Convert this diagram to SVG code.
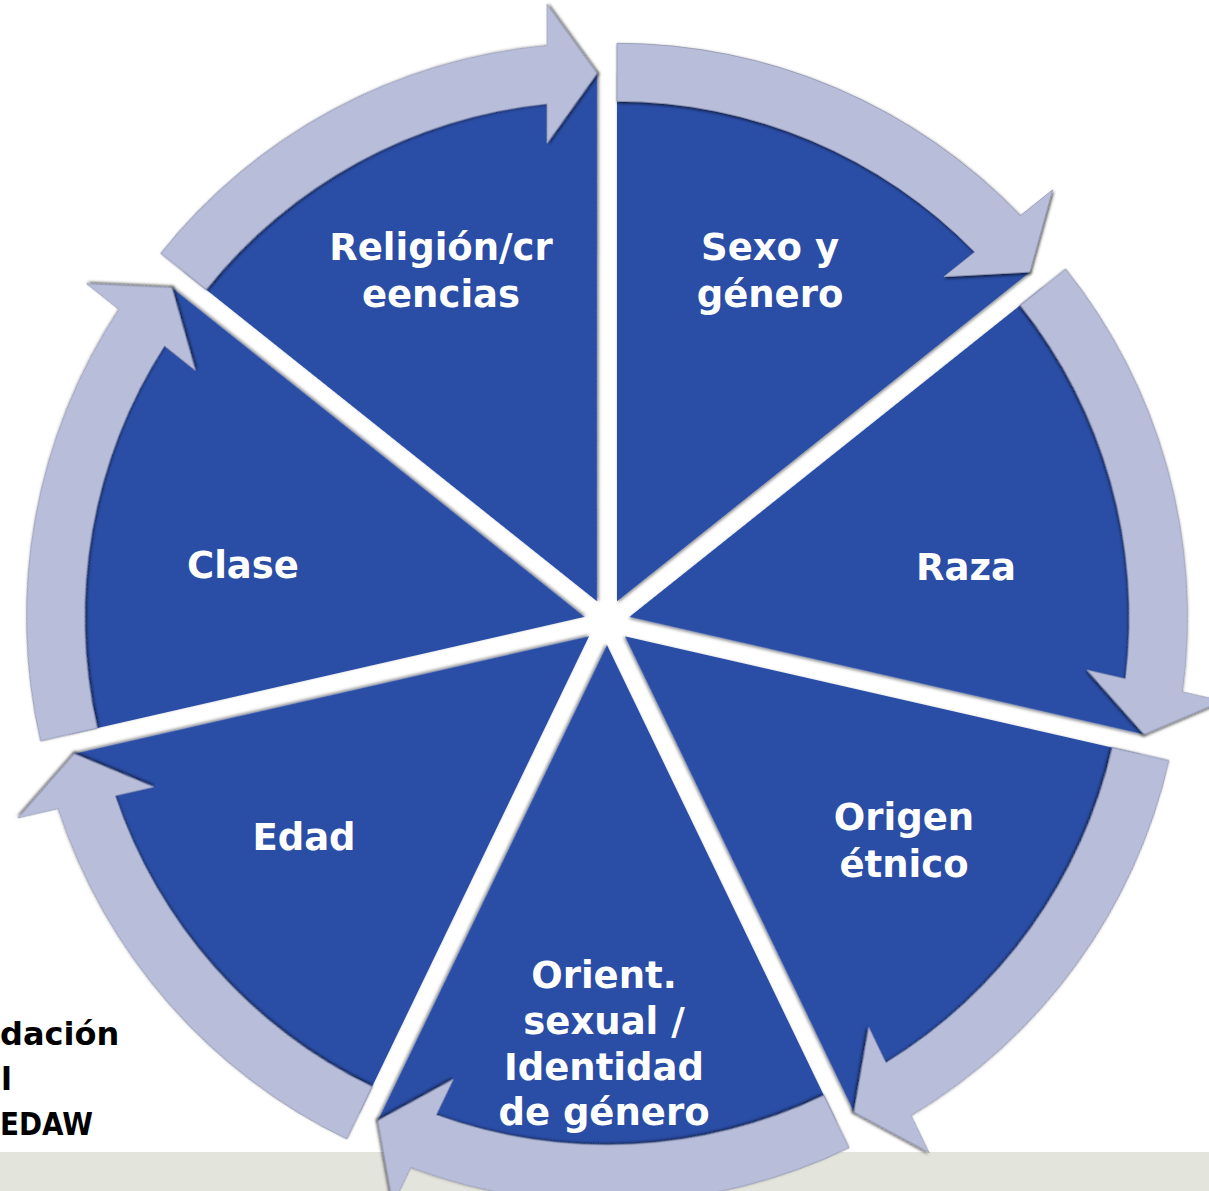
<svg xmlns="http://www.w3.org/2000/svg" xmlns:xlink="http://www.w3.org/1999/xlink" width="1209" height="1191" viewBox="0 0 1209 1191">
  <style>
    .sector { fill: #2C4DA6; filter: url(#secShadow); }
    .arrow { fill: #B8BDDA; stroke: #9095b0; stroke-width: 0.8; filter: url(#arrShadow); }
    .lbl { font-family: "DejaVu Sans", "Liberation Sans", sans-serif; font-weight: bold; font-size: 37px; fill: #ffffff; text-anchor: middle; }
    .side { font-family: "DejaVu Sans", "Liberation Sans", sans-serif; font-weight: bold; font-size: 32px; fill: #000000; }
  </style>
  <defs>
    <filter id="secShadow" x="-5%" y="-5%" width="110%" height="110%">
      <feDropShadow dx="1" dy="1.5" stdDeviation="1.5" flood-color="#000" flood-opacity="0.45"/>
    </filter>
    <filter id="arrShadow" x="-10%" y="-10%" width="120%" height="120%">
      <feDropShadow dx="1" dy="1.5" stdDeviation="1.6" flood-color="#000" flood-opacity="0.7"/>
    </filter>
    <path id="sec" d="M0,0 L0,-529 A529,529 0 0 1 413.59,-329.83 Z"/>
    <path id="arr" d="M0,-558 A558,558 0 0 1 403.34,-385.60 L435.58,-411.31 L412.81,-329.20 L326.91,-324.65 L357.78,-349.27 A500,500 0 0 0 0,-500 Z"/>
  </defs>

  <rect id="band" x="0" y="1152" width="1209" height="39" fill="#E3E4DC"/>

  <g id="node-sexo">
    <use xlink:href="#sec" class="sector" transform="translate(616.98,601.28) rotate(0)"/>
    <text class="lbl" x="770" y="260">Sexo y</text>
    <text class="lbl" x="770" y="307">género</text>
  </g>
  <g id="node-raza">
    <use xlink:href="#sec" class="sector" transform="translate(629.42,616.88) rotate(51.4286)"/>
    <text class="lbl" x="966" y="580">Raza</text>
  </g>
  <g id="node-origen">
    <use xlink:href="#sec" class="sector" transform="translate(624.98,636.34) rotate(102.857)"/>
    <text class="lbl" x="904" y="830">Origen</text>
    <text class="lbl" x="904" y="877">étnico</text>
  </g>
  <g id="node-orient">
    <use xlink:href="#sec" class="sector" transform="translate(607,645) rotate(154.286)"/>
    <text class="lbl" x="604" y="988">Orient.</text>
    <text class="lbl" x="604" y="1034">sexual /</text>
    <text class="lbl" x="604" y="1080">Identidad</text>
    <text class="lbl" x="604" y="1125">de género</text>
  </g>
  <g id="node-edad">
    <use xlink:href="#sec" class="sector" transform="translate(589.02,636.34) rotate(205.714)"/>
    <text class="lbl" x="304" y="850">Edad</text>
  </g>
  <g id="node-clase">
    <use xlink:href="#sec" class="sector" transform="translate(584.58,616.88) rotate(257.143)"/>
    <text class="lbl" x="243" y="578">Clase</text>
  </g>
  <g id="node-religion">
    <use xlink:href="#sec" class="sector" transform="translate(597.02,601.28) rotate(308.571)"/>
    <text class="lbl" x="441" y="260">Religión/cr</text>
    <text class="lbl" x="441" y="307">eencias</text>
  </g>

  <g id="connectors">
    <use xlink:href="#arr" class="arrow" transform="translate(616.98,601.28) rotate(0)"/>
    <use xlink:href="#arr" class="arrow" transform="translate(629.42,616.88) rotate(51.4286)"/>
    <use xlink:href="#arr" class="arrow" transform="translate(624.98,636.34) rotate(102.857)"/>
    <use xlink:href="#arr" class="arrow" transform="translate(607,645) rotate(154.286)"/>
    <use xlink:href="#arr" class="arrow" transform="translate(589.02,636.34) rotate(205.714)"/>
    <use xlink:href="#arr" class="arrow" transform="translate(584.58,616.88) rotate(257.143)"/>
    <use xlink:href="#arr" class="arrow" transform="translate(597.02,601.28) rotate(308.571)"/>
  </g>

  <g id="side-text">
    <text class="side" x="0" y="1045">dación</text>
    <text class="side" x="1" y="1090">l</text>
    <text class="side" x="0" y="1135" textLength="93" lengthAdjust="spacingAndGlyphs">EDAW</text>
  </g>
</svg>
